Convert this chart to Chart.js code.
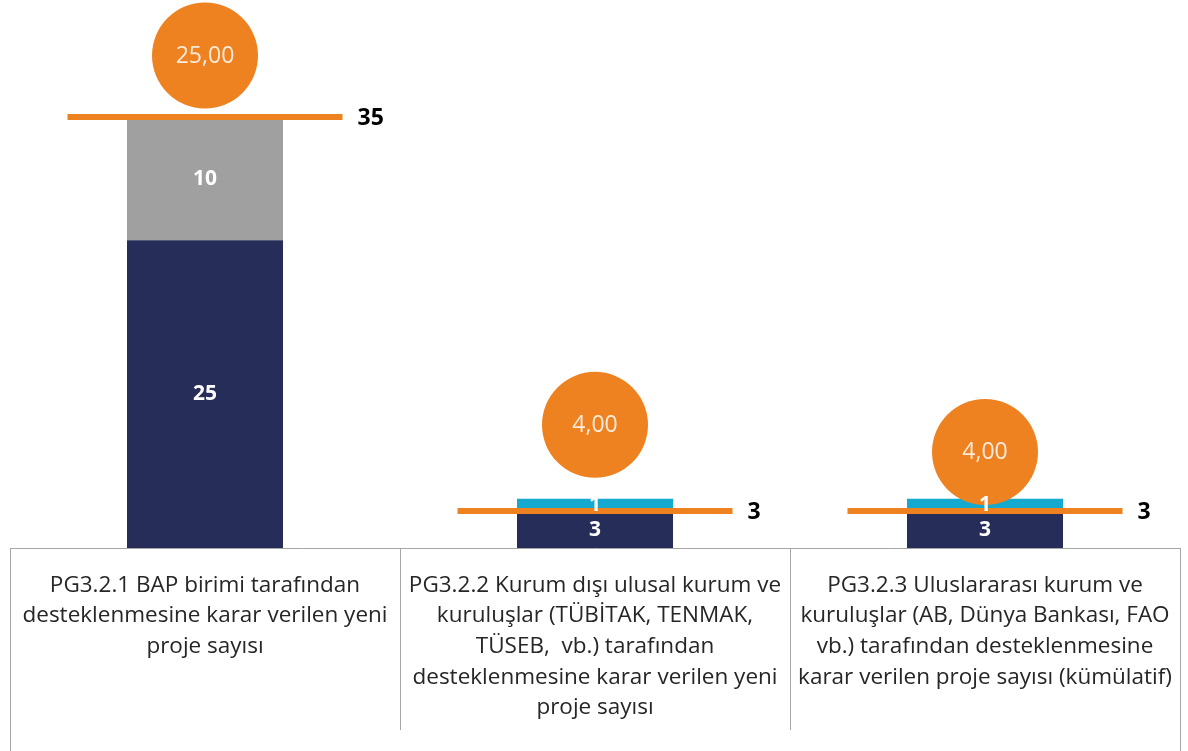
<!DOCTYPE html>
<html>
<head>
<meta charset="utf-8">
<script src="https://cdn.jsdelivr.net/npm/chart.js@4"></script>
<style>
  body { margin:0; background:#fff; }
  #wrap { width:1188px; height:751px; position:relative; }
</style>
</head>
<body>
<div id="wrap"><canvas id="chart"></canvas></div>
<script>
// Kategoriler (etiketler satır satır)
const categories = [
  ['PG3.2.1 BAP birimi tarafından', 'desteklenmesine karar verilen yeni', 'proje sayısı'],
  ['PG3.2.2 Kurum dışı ulusal kurum ve', 'kuruluşlar (TÜBİTAK, TENMAK,', 'TÜSEB,  vb.) tarafından', 'desteklenmesine karar verilen yeni', 'proje sayısı'],
  ['PG3.2.3 Uluslararası kurum ve', 'kuruluşlar (AB, Dünya Bankası, FAO', 'vb.) tarafından desteklenmesine', 'karar verilen proje sayısı (kümülatif)']
];
const navyValues = [25, 3, 3];
const grayValues = [10, null, null];
const cyanValues = [null, 1, 1];
const targetValues = [35, 3, 3];
const actualValues = [25, 4, 4];      // daire içindeki değerler
const bubbleLevels = [40, 10, 7.8];   // dairelerin yüksekliği

const ORANGE = '#EE8220';
const FONT = "'Open Sans'";

const labelsPlugin = {
  id: 'labelsPlugin',
  afterDatasetsDraw(chart) {
    const ctx = chart.ctx;
    ctx.save();
    ctx.textAlign = 'center';
    ctx.textBaseline = 'middle';
    // bar segment labels
    [0, 1, 2].forEach(di => {
      const meta = chart.getDatasetMeta(di);
      const vals = chart.data.datasets[di].data;
      meta.data.forEach((bar, i) => {
        if (!vals[i]) return;
        const cy = (bar.y + bar.base) / 2;
        ctx.font = 'bold 21px ' + FONT;
        ctx.fillStyle = '#ffffff';
        ctx.fillText(String(vals[i]), bar.x, cy);
      });
    });
    // target labels
    const tMeta = chart.getDatasetMeta(3);
    tMeta.data.forEach((pt, i) => {
      ctx.font = 'bold 23px ' + FONT;
      ctx.fillStyle = '#000000';
      ctx.textAlign = 'left';
      ctx.fillText(String(targetValues[i]), pt.x + 137.5 + 15, pt.y + 1);
    });
    // bubble labels
    const bMeta = chart.getDatasetMeta(4);
    bMeta.data.forEach((pt, i) => {
      ctx.font = '23px ' + FONT;
      ctx.fillStyle = '#FCEBDC';
      ctx.textAlign = 'center';
      ctx.fillText(actualValues[i].toFixed(2).replace('.', ','), pt.x, pt.y + 1);
    });
    ctx.restore();
  },
  afterDraw(chart) {
    // tablonun dış kenarları en alta kadar
    const ctx = chart.ctx;
    const x = chart.scales.x;
    ctx.save();
    ctx.strokeStyle = '#a6a6a6';
    ctx.lineWidth = 1;
    [x.left, x.right].forEach(px => {
      ctx.beginPath();
      ctx.moveTo(Math.round(px) + 0.5, x.top);
      ctx.lineTo(Math.round(px) + 0.5, chart.height);
      ctx.stroke();
    });
    ctx.restore();
  }
};

new Chart(document.getElementById('chart'), {
  type: 'bar',
  data: {
    labels: categories,
    datasets: [
      { label: 'Gerçekleşen', data: navyValues, backgroundColor: '#262D59', stack: 's', order: 3 },
      { label: 'Ek', data: grayValues, backgroundColor: '#A0A0A0', stack: 's', order: 3 },
      { label: 'Uluslararası', data: cyanValues, backgroundColor: '#14A9CF', stack: 's', order: 3 },
      { type: 'line', label: 'Hedef', data: targetValues, showLine: false,
        pointStyle: 'line', pointRadius: 137.5, pointHoverRadius: 137.5,
        pointBorderWidth: 6, pointHoverBorderWidth: 6,
        borderColor: ORANGE, backgroundColor: ORANGE, order: 2, clip: false, stack: 't' },
      { type: 'line', label: 'Değer', data: bubbleLevels, showLine: false,
        pointStyle: 'circle', pointRadius: 53, pointHoverRadius: 53,
        pointBorderWidth: 0, borderColor: ORANGE, backgroundColor: ORANGE,
        order: 1, clip: false, stack: 'b' }
    ]
  },
  options: {
    responsive: true,
    maintainAspectRatio: false,
    animation: false,
    events: [],
    layout: { autoPadding: false, padding: { left: 10, right: 8, top: 0, bottom: 0 } },
    plugins: { legend: { display: false }, tooltip: { enabled: false } },
    datasets: { bar: { categoryPercentage: 1, barPercentage: 0.4 } },
    scales: {
      x: {
        stacked: true,
        afterFit(scale) { scale.height = 203; },
        grid: {
          offset: true,
          drawOnChartArea: false,
          tickLength: 182,
          color: '#a6a6a6',
          lineWidth: 1
        },
        border: { display: true, color: '#a6a6a6', width: 1 },
        ticks: {
          padding: -160,
          maxRotation: 0,
          autoSkip: false,
          color: '#262626',
          font: { family: FONT, size: 22.5, lineHeight: 1.36 }
        }
      },
      y: {
        stacked: true,
        display: false,
        min: 0,
        max: 44.5
      }
    }
  },
  plugins: [labelsPlugin]
});
</script>
</body>
</html>
